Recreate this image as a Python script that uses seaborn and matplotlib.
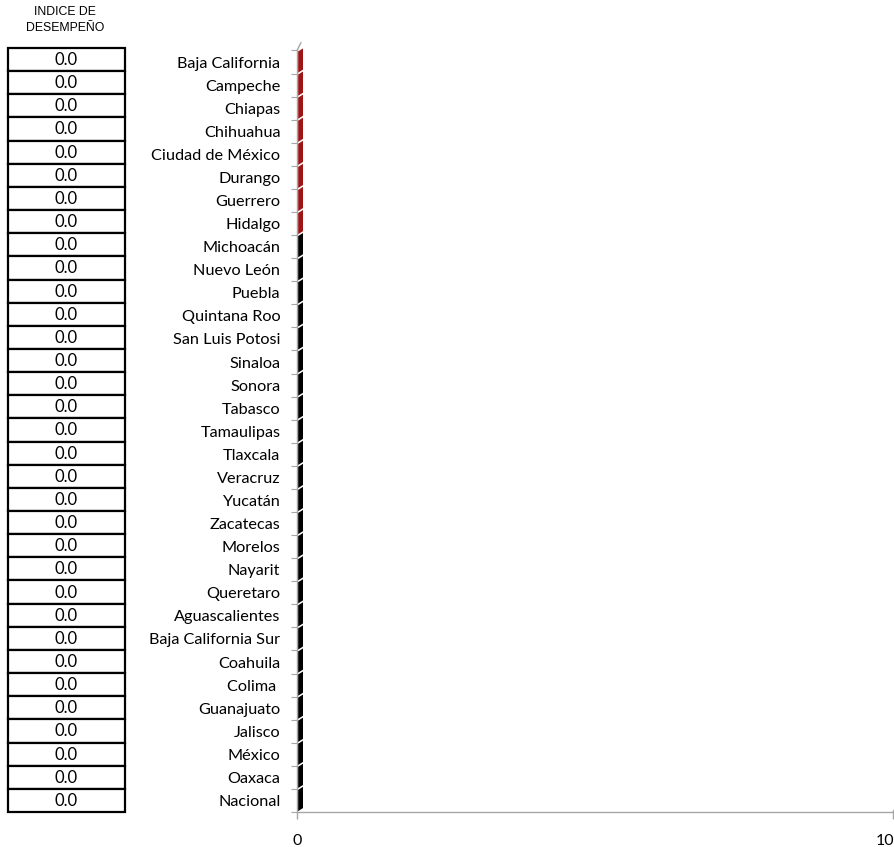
import matplotlib
matplotlib.use("Agg")
import matplotlib.pyplot as plt
import matplotlib.transforms as mtransforms
from matplotlib.patches import Polygon, Rectangle
import seaborn as sns
import pandas as pd

states = ["Baja California", "Campeche", "Chiapas", "Chihuahua", "Ciudad de México",
          "Durango", "Guerrero", "Hidalgo", "Michoacán", "Nuevo León", "Puebla",
          "Quintana Roo", "San Luis Potosi", "Sinaloa", "Sonora", "Tabasco",
          "Tamaulipas", "Tlaxcala", "Veracruz", "Yucatán", "Zacatecas", "Morelos",
          "Nayarit", "Queretaro", "Aguascalientes", "Baja California Sur", "Coahuila",
          "Colima ", "Guanajuato", "Jalisco", "México", "Oaxaca", "Nacional"]
values = [0.0] * len(states)
groups = ["rojo"] * 8 + ["negro"] * (len(states) - 8)
index_values = [0.0] * len(states)
xticks = [0, 10]

RED = "#B20000"
BLACK = "#000000"
GRAY = "#A6A6A6"
LABEL_FONT = "Lato"

sns.set_theme(style="white")
plt.rcParams["font.family"] = [LABEL_FONT, "DejaVu Sans"]

df = pd.DataFrame({"estado": states, "valor": values, "grupo": groups})

fig = plt.figure(figsize=(8.94, 8.47), dpi=100)
W, H = 894, 847

# main bar axes
ax_l, ax_r, ax_t, ax_b = 297, 893, 50.5, 812
ax = fig.add_axes([ax_l / W, 1 - ax_b / H, (ax_r - ax_l) / W, (ax_b - ax_t) / H])
sns.barplot(data=df, y="estado", x="valor", hue="grupo",
            palette={"rojo": RED, "negro": BLACK}, orient="h",
            width=0.92, legend=False, ax=ax, dodge=False)
ax.set_xlim(0, 10)
ax.set_ylim(len(states) - 0.5, -0.5)
ax.set_xlabel("")
ax.set_ylabel("")
ax.set_xticks(xticks)
ax.set_xticklabels([str(t) for t in xticks], fontsize=11.5, color="#000000")
ax.tick_params(axis="x", bottom=True, direction="out", length=5, width=1,
               color=GRAY, pad=11)
# keep the last tick label inside the canvas
last = ax.get_xticklabels()[-1]
last.set_transform(last.get_transform() +
                   mtransforms.ScaledTranslation(-8 / 100, 0, fig.dpi_scale_trans))
ax.set_yticks(range(len(states)))
ax.tick_params(axis="y", which="major", left=False, length=0, pad=12,
               labelsize=11.7, labelcolor="#000000")
ax.set_yticks([i - 0.5 for i in range(len(states) + 1)], minor=True)
ax.tick_params(axis="y", which="minor", left=True, direction="out", length=4,
               width=0.8, color=GRAY)
for s in ["top", "right"]:
    ax.spines[s].set_visible(False)
ax.spines["left"].set_color(GRAY)
ax.spines["bottom"].set_color(GRAY)
ax.spines["left"].set_linewidth(1)
ax.spines["bottom"].set_linewidth(1)

# pseudo 3D end faces of zero-length bars
trans = mtransforms.blended_transform_factory(ax.transAxes, ax.transData)
depth = 6 / (ax_r - ax_l)
skew = 0.13
patches = list(ax.patches)
for p in patches:
    y0 = p.get_y()
    y1 = y0 + p.get_height()
    col = p.get_facecolor()
    poly = Polygon([(0.002, y1), (depth, y1 - skew), (depth, y0 - skew), (0.002, y0)],
                   closed=True, facecolor=col, edgecolor="none",
                   transform=trans, clip_on=False, zorder=5)
    ax.add_patch(poly)

# wall top slant and floor slant
ax.plot([0, 4 / (ax_r - ax_l)], [1, 1 + 8 / (ax_b - ax_t)], color=GRAY, lw=1,
        transform=ax.transAxes, clip_on=False)
ax.plot([1, 1 + 4 / (ax_r - ax_l)], [0, 6 / (ax_b - ax_t)], color=GRAY, lw=1,
        transform=ax.transAxes, clip_on=False)

# index table
t_l, t_r, t_t, t_b = 7.5, 125, 48, 812
tax = fig.add_axes([t_l / W, 1 - t_b / H, (t_r - t_l) / W, (t_b - t_t) / H])
tax.set_xlim(0, 1)
tax.set_ylim(len(states), 0)
tax.axis("off")
for i, v in enumerate(index_values):
    tax.add_patch(Rectangle((0, i), 1, 1, facecolor="white", edgecolor="black",
                            lw=1.6, clip_on=False))
    tax.text(0.5, i + 0.52, f"{v:.1f}", ha="center", va="center", fontsize=12,
             color="black")

fig.text(65 / W, 1 - 12 / H, "INDICE DE", ha="center", va="center", fontsize=8.8,
         family=["Liberation Sans", "DejaVu Sans"], color="black")
fig.text(65 / W, 1 - 28 / H, "DESEMPEÑO", ha="center", va="center", fontsize=8.8,
         family=["Liberation Sans", "DejaVu Sans"], color="black")

fig.savefig("out.png", dpi=100, facecolor="white")
